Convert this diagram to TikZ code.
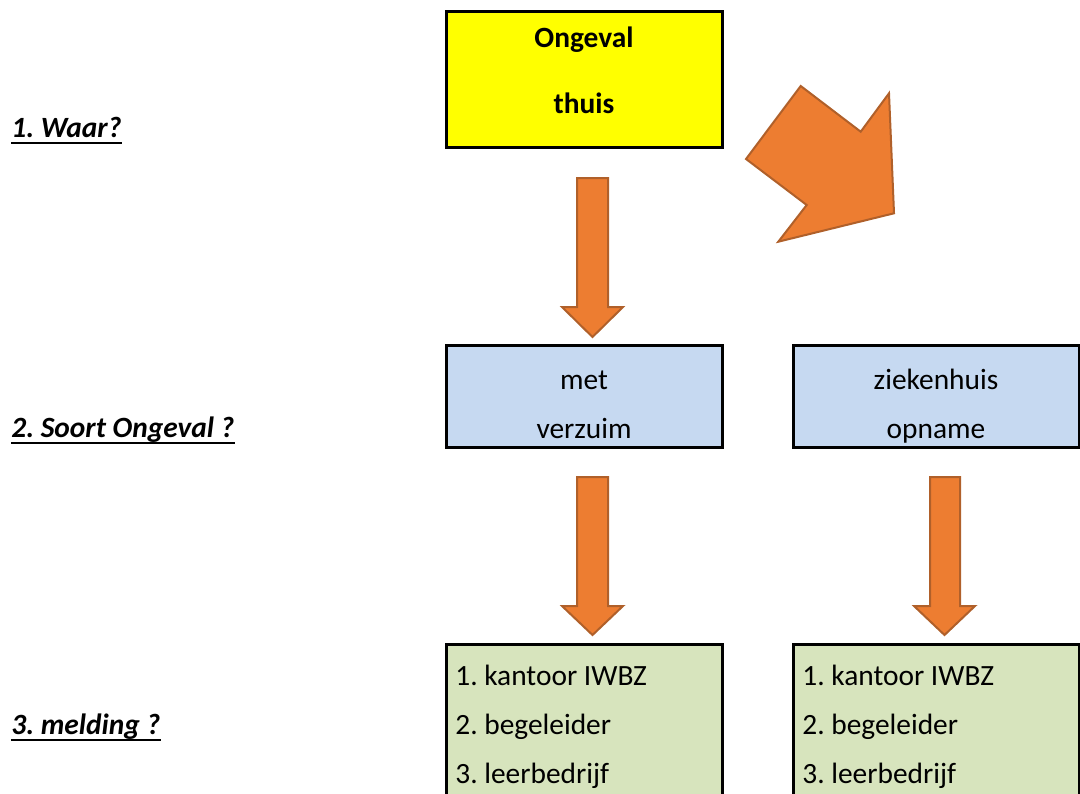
\documentclass[tikz,border=0pt]{standalone}
\usepackage{fontspec}
\setmainfont{Carlito}
\frenchspacing
\definecolor{boxyellow}{HTML}{FFFF00}
\definecolor{boxblue}{HTML}{C6D9F1}
\definecolor{boxgreen}{HTML}{D7E4BD}
\definecolor{arrfill}{HTML}{ED7D31}
\definecolor{arrline}{HTML}{B0602A}
\begin{document}
\begin{tikzpicture}[x=0.5pt,y=-0.5pt,
  box/.style={draw=black,line width=1.5pt,rectangle,inner sep=0pt},
  txt/.style={inner sep=0pt,font=\fontsize{14.7}{14.7}\selectfont\frenchspacing},
  btxt/.style={txt,font=\fontsize{14.7}{14.7}\selectfont\bfseries},
  lab/.style={inner sep=0pt,anchor=base west,font=\fontsize{14.7}{14.7}\selectfont\bfseries\itshape\frenchspacing},
  ul/.style={line width=1.4pt},
  blockarrow/.style={fill=arrfill,draw=arrline,line width=1pt,line join=miter}]
\useasboundingbox (0,0) rectangle (1080,793);
\clip (0,0) rectangle (1080,793);
% boxes
\node[box,fill=boxyellow,minimum width=138pt,minimum height=68pt] (thuis) at (584,79) {};
\node[box,fill=boxblue,minimum width=138pt,minimum height=51pt] (verzuim) at (584,396) {};
\node[box,fill=boxblue,minimum width=143pt,minimum height=51pt] (opname) at (936,396) {};
\node[box,fill=boxgreen,minimum width=138pt,minimum height=128pt] (meldL) at (584,772) {};
\node[box,fill=boxgreen,minimum width=143pt,minimum height=128pt] (meldR) at (936,772) {};
% box texts
\node[btxt,anchor=base] (t1) at (584,47) {Ongeval};
\node[btxt,anchor=base] (t2) at (584,113) {thuis};
\node[txt,anchor=base] (t3) at (584,389) {met};
\node[txt,anchor=base] (t4) at (584,438) {verzuim};
\node[txt,anchor=base] (t5) at (936,389) {ziekenhuis};
\node[txt,anchor=base] (t6) at (936,438) {opname};
\node[txt,anchor=base west] (g1) at (455,685) {1. kantoor IWBZ};
\node[txt,anchor=base west] (g2) at (455,734) {2. begeleider};
\node[txt,anchor=base west] (g3) at (455,783) {3. leerbedrijf};
\node[txt,anchor=base west] (h1) at (802,685) {1. kantoor IWBZ};
\node[txt,anchor=base west] (h2) at (802,734) {2. begeleider};
\node[txt,anchor=base west] (h3) at (802,783) {3. leerbedrijf};
% left labels
\node[lab] (l1) at (11,137) {1. Waar?};
\node[lab] (l2) at (11,437) {2. Soort Ongeval ?};
\node[lab] (l3) at (11,734) {3. melding ?};
\draw[ul] ([yshift=-3pt]l1.base west) -- ([yshift=-3pt]l1.base east);
\draw[ul] ([yshift=-3pt]l2.base west) -- ([yshift=-3pt]l2.base east);
\draw[ul] ([yshift=-3pt]l3.base west) -- ([yshift=-3pt]l3.base east);
% block arrows
\draw[blockarrow] (577,178) -- (608,178) -- (608,307) -- (623,307) -- (592.5,337) -- (562,307) -- (577,307) -- cycle;
\draw[blockarrow] (577,477) -- (608,477) -- (608,606) -- (623,606) -- (592.5,635) -- (562,606) -- (577,606) -- cycle;
\draw[blockarrow] (930,477) -- (960,477) -- (960,606) -- (975,606) -- (944.5,635) -- (914,606) -- (930,606) -- cycle;
\draw[blockarrow] (800.7,86) -- (860.7,131.7) -- (889,93.3) -- (894,213.3) -- (778.3,241.7) -- (806.7,205) -- (746,159) -- cycle;
\end{tikzpicture}
\end{document}
